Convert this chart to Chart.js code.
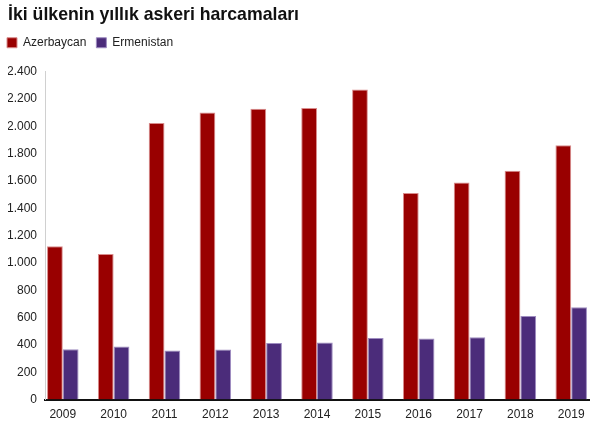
<!DOCTYPE html>
<html>
<head>
<meta charset="utf-8">
<script src="https://cdn.jsdelivr.net/npm/chart.js@4/dist/chart.umd.min.js"></script>
<style>
  html, body { margin: 0; padding: 0; background: #fff; }
  #wrap { width: 600px; height: 426px; }
</style>
</head>
<body>
<div id="wrap"><canvas id="myChart"></canvas></div>
<script>
// yillar ve harcamalar (milyon dolar)
var yillar = [2009, 2010, 2011, 2012, 2013, 2014, 2015, 2016, 2017, 2018, 2019];
var azerbaycan = [1123, 1065, 2025, 2102, 2129, 2134, 2270, 1513, 1589, 1676, 1861];
var ermenistan = [369, 389, 359, 367, 415, 418, 451, 447, 456, 612, 676];
var yTikler = [0, 200, 400, 600, 800, 1000, 1200, 1400, 1600, 1800, 2000, 2200, 2400];

function noktala(v)
{
    // 2400 -> 2.400
    return String(v).replace(/\B(?=(\d{3})+(?!\d))/g, '.');
}

function ciftler(seri)
{
    return seri.map(function(v, i){ return {x: yillar[i], y: v}; });
}

// legend: biraz sola kaydir, altina bosluk ekle
var legendAyar = {
    id: 'legendAyar',
    beforeInit: function(chart){
        var fit = chart.legend.fit;
        chart.legend.fit = function(){
            fit.bind(chart.legend)();
            this.height += 13;
        };
    },
    afterLayout: function(chart){
        chart.legend.left -= 11;
        chart.legend.right -= 11;
    }
};

Chart.defaults.font.family = "'Liberation Sans', Arial, sans-serif";
Chart.defaults.color = '#222';

var ctx = document.getElementById('myChart').getContext('2d');
var myChart = new Chart(ctx, {
    type: 'bar',
    data: {
        datasets: [
        {
            label: 'Azerbaycan',
            data: ciftler(azerbaycan),
            backgroundColor: '#990000',
            borderColor: '#d98c8c',
            borderWidth: 1
        },
        {
            label: 'Ermenistan',
            data: ciftler(ermenistan),
            backgroundColor: '#4b2c7a',
            borderColor: '#9e8cc0',
            borderWidth: 1
        }
        ]
    },
    plugins: [legendAyar],
    options: {
        responsive: true,
        maintainAspectRatio: false,
        animation: false,
        categoryPercentage: 0.62,
        barPercentage: 1,
        layout: {
            padding: {left: 8, right: 11, top: 4, bottom: 4}
        },
        plugins: {
            title: {
                display: true,
                text: 'İki ülkenin yıllık askeri harcamaları',
                align: 'start',
                color: '#111',
                font: {size: 17.7, weight: 'bold'},
                padding: {top: 0, bottom: 1.5}
            },
            legend: {
                align: 'start',
                labels: {
                    boxWidth: 10,
                    boxHeight: 10,
                    padding: 10,
                    color: '#222',
                    font: {size: 12}
                }
            },
            tooltip: {enabled: false}
        },
        scales: {
            x: {
                type: 'linear',
                offset: false,
                min: yillar[0] - 0.35,
                max: yillar[yillar.length - 1] + 0.35,
                afterBuildTicks: function(scale){
                    scale.ticks = yillar.map(function(v){ return {value: v}; });
                },
                ticks: {
                    callback: function(v){ return String(v); },
                    color: '#222',
                    font: {size: 12},
                    padding: 0,
                    maxRotation: 0
                },
                grid: {display: false},
                border: {color: '#111', width: 2}
            },
            y: {
                min: 0,
                max: 2400,
                afterBuildTicks: function(scale){
                    scale.ticks = yTikler.map(function(v){ return {value: v}; });
                },
                afterFit: function(scale){
                    scale.width = 37;
                },
                ticks: {
                    callback: function(v){ return noktala(v); },
                    color: '#222',
                    font: {size: 12},
                    padding: 0
                },
                grid: {display: false},
                border: {color: '#d0d0d0', width: 1}
            }
        }
    }
});
</script>
</body>
</html>
